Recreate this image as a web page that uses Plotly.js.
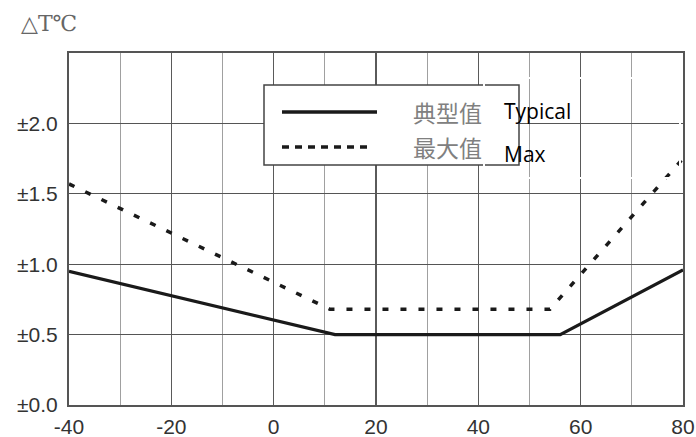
<!DOCTYPE html>
<html>
<head>
<meta charset="utf-8">
<script src="https://cdn.plot.ly/plotly-3.0.1.min.js"></script>
<style>html,body{margin:0;padding:0;background:#fff;}#chart{width:696px;height:437px;}</style>
</head>
<body>
<div id="chart"></div>
<script>
// Data
const typTemps = [-40, 12, 56, 80];
const typValues = [0.95, 0.5, 0.5, 0.96];
const maxTemps = [-40, 11, 54, 80];
const maxValues = [1.57, 0.68, 0.68, 1.75];
const xTicks = [-40, -20, 0, 20, 40, 60, 80];
const yTicks = [0, 0.5, 1.0, 1.5, 2.0];
const yTickText = ['±0.0', '±0.5', '±1.0', '±1.5', '±2.0'];
const legendZh = ['典型值', '最大值'];
const legendEn = ['Typical', 'Max'];
const yTitle = '△T℃';

const traces = [
  {x: typTemps, y: typValues, type: 'scatter', mode: 'lines', name: legendZh[0],
   line: {color: '#1a1a1a', width: 3.2}, showlegend: false, hoverinfo: 'skip'},
  {x: maxTemps, y: maxValues, type: 'scatter', mode: 'lines', name: legendZh[1],
   line: {color: '#1a1a1a', width: 3.5, dash: '6px,12px'}, showlegend: false, hoverinfo: 'skip'}
];

const W = 696, H = 437;
const L = 69, R = 683, T = 53, B = 405;
const ax = v => (v - L) / (R - L);
const ay = v => (B - v) / (B - T);
const tickFont = {family: "Arial, 'Liberation Sans', sans-serif", size: 21, color: '#333'};

const layout = {
  width: W, height: H,
  margin: {l: 69, r: 13, t: 53, b: 32, pad: 0},
  paper_bgcolor: '#fff', plot_bgcolor: '#fff',
  font: {family: "Arial, 'Liberation Sans', sans-serif", color: '#333'},
  xaxis: {
    range: [-40, 80], tickvals: xTicks, ticktext: xTicks.map(String),
    showgrid: true, gridcolor: '#5a5a5a', gridwidth: 1.2,
    minor: {dtick: 10, tick0: -40, showgrid: true, gridcolor: '#a0a0a0', gridwidth: 1},
    zeroline: false, showline: true, mirror: true, linecolor: '#555', linewidth: 2,
    ticks: 'outside', ticklen: 2, tickcolor: 'rgba(0,0,0,0)',
    tickfont: tickFont, fixedrange: true
  },
  yaxis: {
    range: [0, 2.5], tickvals: yTicks, ticktext: yTickText,
    showgrid: true, gridcolor: '#555', gridwidth: 1.2,
    zeroline: false, showline: true, mirror: true, linecolor: '#555', linewidth: 2,
    ticks: 'outside', ticklen: 5, tickcolor: 'rgba(0,0,0,0)',
    tickfont: tickFont, fixedrange: true
  },
  shapes: [
    {type: 'rect', xref: 'paper', yref: 'paper', x0: ax(264), x1: ax(519), y0: ay(165), y1: ay(85),
     line: {color: '#444', width: 1.5}, fillcolor: '#fff', layer: 'above'},
    {type: 'rect', xref: 'paper', yref: 'paper', x0: ax(484), x1: ax(680), y0: ay(178), y1: ay(78),
     line: {color: '#fff', width: 2}, fillcolor: 'rgba(0,0,0,0)', layer: 'above'},
    {type: 'line', xref: 'paper', yref: 'paper', x0: ax(282), x1: ax(377), y0: ay(112), y1: ay(112),
     line: {color: '#1a1a1a', width: 3.5}, layer: 'above'},
    {type: 'line', xref: 'paper', yref: 'paper', x0: ax(282), x1: ax(372), y0: ay(147), y1: ay(147),
     line: {color: '#1a1a1a', width: 3.5, dash: '7px,6px'}, layer: 'above'}
  ],
  annotations: [
    {xref: 'paper', yref: 'paper', x: ax(411), y: ay(112), xanchor: 'left', yanchor: 'middle',
     text: legendZh[0], showarrow: false, font: {family: 'Noto Sans CJK SC', size: 23, color: '#808080'}},
    {xref: 'paper', yref: 'paper', x: ax(411), y: ay(147), xanchor: 'left', yanchor: 'middle',
     text: legendZh[1], showarrow: false, font: {family: 'Noto Sans CJK SC', size: 23, color: '#808080'}},
    {xref: 'paper', yref: 'paper', x: ax(502), y: ay(111), xanchor: 'left', yanchor: 'middle',
     text: legendEn[0], showarrow: false, font: {family: "'Open Sans', 'Liberation Sans', sans-serif", size: 21, color: '#000'}},
    {xref: 'paper', yref: 'paper', x: ax(502), y: ay(154), xanchor: 'left', yanchor: 'middle',
     text: legendEn[1], showarrow: false, font: {family: "'Open Sans', 'Liberation Sans', sans-serif", size: 21, color: '#000'}},
    {xref: 'paper', yref: 'paper', x: ax(19), y: ay(23), xanchor: 'left', yanchor: 'middle',
     text: yTitle, showarrow: false, font: {family: "'DejaVu Serif', 'Liberation Serif', serif", size: 22, color: '#666'}}
  ]
};

Plotly.newPlot('chart', traces, layout, {displayModeBar: false, staticPlot: true});
</script>
</body>
</html>
